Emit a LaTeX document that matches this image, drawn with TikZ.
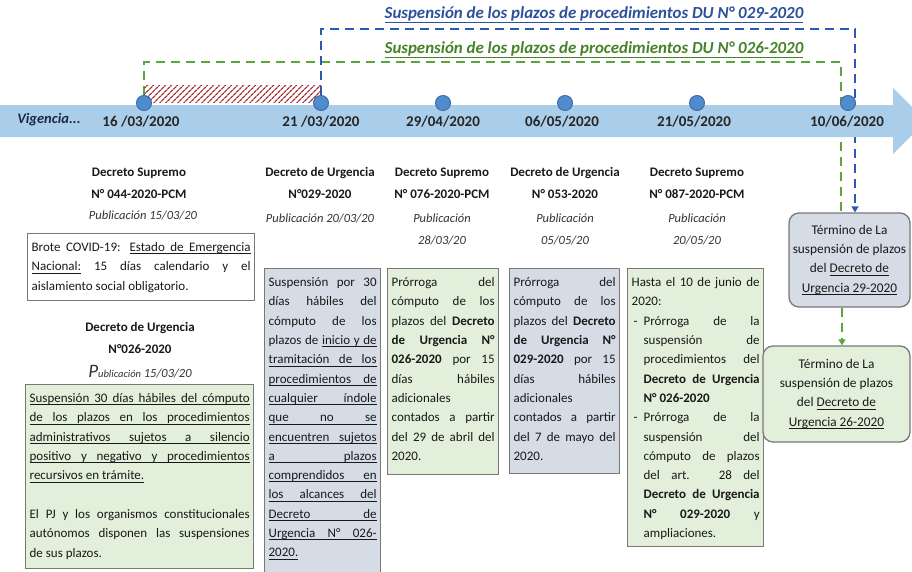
\documentclass[tikz,border=0pt]{standalone}
\usepackage{fontspec}
\setmainfont{Carlito}
\usetikzlibrary{arrows.meta,patterns.meta,backgrounds}

\definecolor{bandblue}{RGB}{170,206,234}
\definecolor{dotblue}{RGB}{80,140,205}
\definecolor{dotedge}{RGB}{60,110,170}
\definecolor{dashblue}{RGB}{40,90,180}
\definecolor{dashgreen}{RGB}{90,165,60}
\definecolor{titleblue}{RGB}{45,80,155}
\definecolor{titlegreen}{RGB}{70,130,40}
\definecolor{hatchred}{RGB}{165,40,50}
\definecolor{boxedge}{RGB}{120,120,120}
\definecolor{fillgray}{RGB}{214,220,229}
\definecolor{fillgreen}{RGB}{226,239,218}
\definecolor{navy}{RGB}{30,40,70}

% underlined words with stretchable underlined spaces
\newcommand{\uw}[1]{\setbox0\hbox{#1}\rlap{\rule[-2.6pt]{\wd0}{0.8pt}}\box0\relax}
\newcommand{\us}{\leaders\hrule height -1.8pt depth 2.6pt\hskip\fontdimen2\font plus\fontdimen3\font minus\fontdimen4\font\relax}
\def\ulline#1{\ulnext#1 \ulend}
\def\ulnext#1 #2\ulend{\uw{#1}\ifx\relax#2\relax\else\us\ulnext#2\ulend\fi}

\newcommand{\boxtext}[3]{\parbox[t][#1][t]{#2}{\tolerance=10000\hbadness=10000\rule{0pt}{18pt}#3}}

\begin{document}
\begin{tikzpicture}[x=1pt,y=-1pt,
    dashg/.style={draw=dashgreen, line width=2.6pt, dash pattern=on 9pt off 6pt},
    dashb/.style={draw=dashblue, line width=2.6pt, dash pattern=on 9pt off 6pt},
    dot/.style={circle, fill=dotblue, draw=dotedge, line width=1pt, minimum size=15pt, inner sep=0pt},
    datelbl/.style={font=\fontsize{15}{18}\selectfont\bfseries, text=black!85},
    dechead/.style={font=\fontsize{13}{22}\selectfont\bfseries, align=center, text=black!90},
    pubdate/.style={font=\fontsize{12.5}{22}\selectfont\itshape, align=center, text=black!80},
    infobox/.style={draw=boxedge, line width=1.3pt, anchor=north west, inner xsep=4pt, inner ysep=0pt,
      font=\fontsize{13}{19.3}\selectfont, text=black!90},
    endbox/.style={draw=boxedge, line width=1.3pt, rounded corners=10pt, align=center,
      font=\fontsize{13.3}{19.3}\selectfont, text=black!90},
    hatchbar/.style={pattern={Lines[angle=45,distance=4pt,line width=1.3pt]}, pattern color=hatchred, inner sep=0pt}]

  \clip (0,0) rectangle (912,571);

  % titles
  \node[font=\fontsize{16.9}{20}\selectfont\bfseries\itshape, text=titleblue] (tit029) at (594,15)
    {\underline{Suspensión de los plazos de procedimientos DU N° 029-2020}};
  \node[font=\fontsize{16.9}{20}\selectfont\bfseries\itshape, text=titlegreen] (tit026) at (594,50)
    {\underline{Suspensión de los plazos de procedimientos DU N° 026-2020}};

  % timeline
  \fill[bandblue] (0,105) -- (893,105) -- (893,88) -- (926,121) -- (893,154) -- (893,137) -- (0,137) -- cycle;
  \node[hatchbar, anchor=south west, minimum width=177pt, minimum height=17pt] (hatch) at (144,103) {};

  \begin{scope}[every node/.style={dot}]
    \node (p16) at (144,103) {};
    \node (p21) at (321,103) {};
    \node (p29) at (443,103) {};
    \node (p06) at (565,103) {};
    \node (p2105) at (697,103) {};
    \node (p10) at (848,103) {};
  \end{scope}

  \node[font=\fontsize{14.5}{18}\selectfont\bfseries\itshape, text=navy] (vig) at (49,120) {Vigencia...};
  \begin{scope}[every node/.style={datelbl}]
    \node (d16) at (141,122) {16 /03/2020};
    \node (d21) at (321,122) {21 /03/2020};
    \node (d29) at (443,122) {29/04/2020};
    \node (d06) at (562,122) {06/05/2020};
    \node (d2105) at (694,122) {21/05/2020};
    \node (d10) at (847,122) {10/06/2020};
  \end{scope}

  % headings
  \node[dechead] (h1) at (139,183) {Decreto Supremo\\N° 044-2020-PCM};
  \node[pubdate] (u1) at (143,215) {Publicación 15/03/20};
  \node[dechead] (h1b) at (140,338) {Decreto de Urgencia\\N°026-2020};
  \node[pubdate] (u1b) at (140,372)
    {{\fontsize{19}{22}\selectfont P}{\fontsize{10.5}{22}\selectfont ublicación} 15/03/20};
  \node[dechead] (h2) at (320,183) {Decreto de Urgencia\\N°029-2020};
  \node[pubdate] (u2) at (320,218) {Publicación 20/03/20};
  \node[dechead] (h3) at (442,183) {Decreto Supremo\\N° 076-2020-PCM};
  \node[pubdate] (u3) at (442,229) {Publicación\\28/03/20};
  \node[dechead] (h4) at (565,183) {Decreto de Urgencia\\N° 053-2020};
  \node[pubdate] (u4) at (565,229) {Publicación\\05/05/20};
  \node[dechead] (h5) at (697,183) {Decreto Supremo\\N° 087-2020-PCM};
  \node[pubdate] (u5) at (697,229) {Publicación\\20/05/20};

  % boxes
  \node[infobox, fill=white] (b1) at (27,233) {\boxtext{67pt}{219pt}{%
    Brote COVID-19: \ulline{Estado de Emergencia}\linebreak
    \ulline{Nacional:} 15 días calendario y el\linebreak
    aislamiento social obligatorio.}};
  \node[infobox, fill=fillgreen] (b2) at (25,384) {\boxtext{184pt}{220pt}{%
    \ulline{Suspensión 30 días hábiles del cómputo}\linebreak
    \ulline{de los plazos en los procedimientos}\linebreak
    \ulline{administrativos sujetos a silencio}\linebreak
    \ulline{positivo y negativo y procedimientos}\linebreak
    \ulline{recursivos en trámite.}\par\vspace{19.3pt}
    El PJ y los organismos constitucionales\linebreak
    autónomos disponen las suspensiones\linebreak
    de sus plazos.}};
  \node[infobox, fill=fillgray] (b3) at (264,268) {\boxtext{320pt}{108pt}{%
    Suspensión por 30\linebreak
    días hábiles del\linebreak
    cómputo de los\linebreak
    plazos de \ulline{inicio y de}\linebreak
    \ulline{tramitación de los}\linebreak
    \ulline{procedimientos de}\linebreak
    \ulline{cualquier índole}\linebreak
    \ulline{que no se}\linebreak
    \ulline{encuentren sujetos}\linebreak
    \ulline{a plazos}\linebreak
    \ulline{comprendidos en}\linebreak
    \ulline{los alcances del}\linebreak
    \ulline{Decreto de}\linebreak
    \ulline{Urgencia N° 026-}\linebreak
    \ulline{2020.}}};
  \node[infobox, fill=fillgreen] (b4) at (387,268) {\boxtext{206pt}{103pt}{%
    Prórroga del\linebreak
    cómputo de los\linebreak
    plazos del \textbf{Decreto}\linebreak
    \textbf{de Urgencia N°}\linebreak
    \textbf{026-2020} por 15\linebreak
    días hábiles\linebreak
    adicionales\linebreak
    contados a partir\linebreak
    del 29 de abril del\linebreak
    2020.}};
  \node[infobox, fill=fillgray] (b5) at (509,268) {\boxtext{205pt}{102pt}{%
    Prórroga del\linebreak
    cómputo de los\linebreak
    plazos del \textbf{Decreto}\linebreak
    \textbf{de Urgencia N°}\linebreak
    \textbf{029-2020} por 15\linebreak
    días hábiles\linebreak
    adicionales\linebreak
    contados a partir\linebreak
    del 7 de mayo del\linebreak
    2020.}};
  \node[infobox, fill=fillgreen] (b6) at (627,268) {\boxtext{278pt}{128pt}{%
    Hasta el 10 de junio de\linebreak
    2020:\par
    \hangindent=12pt\hangafter=1\noindent\makebox[12pt][l]{\hspace{2pt}-}Prórroga de la\linebreak
    suspensión de\linebreak
    procedimientos del\linebreak
    \textbf{Decreto de Urgencia}\linebreak
    \textbf{N° 026-2020}\par
    \hangindent=12pt\hangafter=1\noindent\makebox[12pt][l]{\hspace{2pt}-}Prórroga de la\linebreak
    suspensión del\linebreak
    cómputo de plazos\linebreak
    del art. 28 del\linebreak
    \textbf{Decreto de Urgencia}\linebreak
    \textbf{N° 029-2020} y\linebreak
    ampliaciones.}};

  % end of suspensions
  \node[endbox, fill=fillgray, minimum width=121pt, minimum height=94pt] (t29) at (849.5,260)
    {Término de La\\suspensión de plazos\\del \ulline{Decreto de}\\\ulline{Urgencia 29-2020}};
  \node[endbox, fill=fillgreen, minimum width=147pt, minimum height=96pt] (t26) at (836.5,394)
    {Término de La\\suspensión de plazos\\del \ulline{Decreto de}\\\ulline{Urgencia 26-2020}};

  \draw[dashg, -{Triangle[length=6pt,width=7pt]}] ([xshift=-7.5pt]t29.south) -- ([xshift=-7.5pt]t29.south |- t26.north);

  \begin{pgfonlayer}{background}
    \coordinate (gturn) at (841,62);
    \coordinate (bturn) at (855,29);
    \draw[dashg] (p16.north) |- (gturn) -- (gturn |- t29.north);
    \draw[dashb, -{Triangle[length=6pt,width=7pt]}] (p21.north) |- (bturn) -- (bturn |- t29.north);
  \end{pgfonlayer}

\end{tikzpicture}
\end{document}
